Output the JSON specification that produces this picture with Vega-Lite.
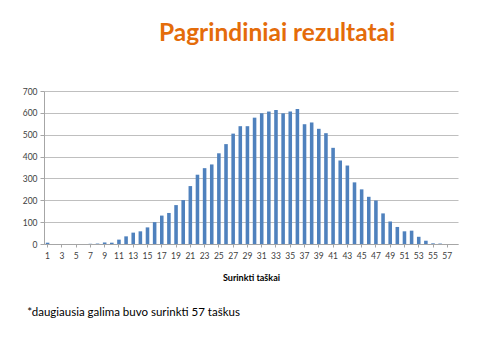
{
  "$schema": "https://vega.github.io/schema/vega-lite/v6.json",
  "background": "white",
  "padding": {"left": 22, "top": 20, "right": 20, "bottom": 5},
  "title": {
    "text": "Pagrindiniai rezultatai",
    "font": "Lato",
    "fontSize": 24.5,
    "fontWeight": "bold",
    "color": "#E46C0A",
    "anchor": "middle",
    "dx": 37,
    "offset": 41
  },
  "config": {
    "view": {"stroke": null},
    "font": "Lato"
  },
  "vconcat": [
    {
      "width": 414,
      "height": 153,
      "title": {
        "text": "*daugiausia galima buvo surinkti 57 taškus",
        "orient": "bottom",
        "anchor": "start",
        "font": "Lato",
        "fontSize": 11.5,
        "fontWeight": "normal",
        "color": "#000000",
        "dx": 5,
        "offset": 24
      },
      "data": {
        "values": [
          {"taskai": 1, "n": 6}, {"taskai": 2, "n": 0}, {"taskai": 3, "n": 0}, {"taskai": 4, "n": 0},
          {"taskai": 5, "n": 0}, {"taskai": 6, "n": 0}, {"taskai": 7, "n": 1}, {"taskai": 8, "n": 2},
          {"taskai": 9, "n": 7}, {"taskai": 10, "n": 6}, {"taskai": 11, "n": 20}, {"taskai": 12, "n": 35},
          {"taskai": 13, "n": 52}, {"taskai": 14, "n": 58}, {"taskai": 15, "n": 76}, {"taskai": 16, "n": 100},
          {"taskai": 17, "n": 130}, {"taskai": 18, "n": 142}, {"taskai": 19, "n": 178}, {"taskai": 20, "n": 201},
          {"taskai": 21, "n": 265}, {"taskai": 22, "n": 317}, {"taskai": 23, "n": 347}, {"taskai": 24, "n": 364},
          {"taskai": 25, "n": 415}, {"taskai": 26, "n": 457}, {"taskai": 27, "n": 505}, {"taskai": 28, "n": 539},
          {"taskai": 29, "n": 539}, {"taskai": 30, "n": 578}, {"taskai": 31, "n": 598}, {"taskai": 32, "n": 606},
          {"taskai": 33, "n": 613}, {"taskai": 34, "n": 598}, {"taskai": 35, "n": 606}, {"taskai": 36, "n": 618},
          {"taskai": 37, "n": 548}, {"taskai": 38, "n": 556}, {"taskai": 39, "n": 527}, {"taskai": 40, "n": 507},
          {"taskai": 41, "n": 440}, {"taskai": 42, "n": 382}, {"taskai": 43, "n": 359}, {"taskai": 44, "n": 282},
          {"taskai": 45, "n": 250}, {"taskai": 46, "n": 216}, {"taskai": 47, "n": 199}, {"taskai": 48, "n": 140},
          {"taskai": 49, "n": 103}, {"taskai": 50, "n": 78}, {"taskai": 51, "n": 58}, {"taskai": 52, "n": 61},
          {"taskai": 53, "n": 33}, {"taskai": 54, "n": 15}, {"taskai": 55, "n": 3}, {"taskai": 56, "n": 2},
          {"taskai": 57, "n": 0}, {"taskai": 58, "n": 0}
        ]
      },
      "mark": {"type": "bar", "color": "#4F81BD"},
      "encoding": {
        "x": {
          "field": "taskai",
          "type": "ordinal",
          "sort": "ascending",
          "scale": {"paddingInner": 0.5, "paddingOuter": 0.25},
          "axis": {
            "title": "Surinkti taškai",
            "titleFont": "Lato",
            "titleFontSize": 9,
            "titleFontWeight": "bold",
            "titleColor": "#000000",
            "titlePadding": 14,
            "values": [1,3,5,7,9,11,13,15,17,19,21,23,25,27,29,31,33,35,37,39,41,43,45,47,49,51,53,55,57],
            "labelAngle": 0,
            "labelFontSize": 8.5,
            "labelColor": "#404040",
            "labelPadding": 4,
            "domainColor": "#A6A6A6",
            "tickColor": "#A6A6A6",
            "tickSize": 3,
            "grid": false
          }
        },
        "y": {
          "field": "n",
          "type": "quantitative",
          "scale": {"domain": [0, 700]},
          "axis": {
            "title": null,
            "values": [0, 100, 200, 300, 400, 500, 600, 700],
            "labelFontSize": 8.5,
            "labelColor": "#404040",
            "labelPadding": 3,
            "domainColor": "#A6A6A6",
            "tickColor": "#A6A6A6",
            "tickSize": 4,
            "gridColor": "#BFBFBF",
            "gridWidth": 1
          }
        }
      }
    }
  ]
}
